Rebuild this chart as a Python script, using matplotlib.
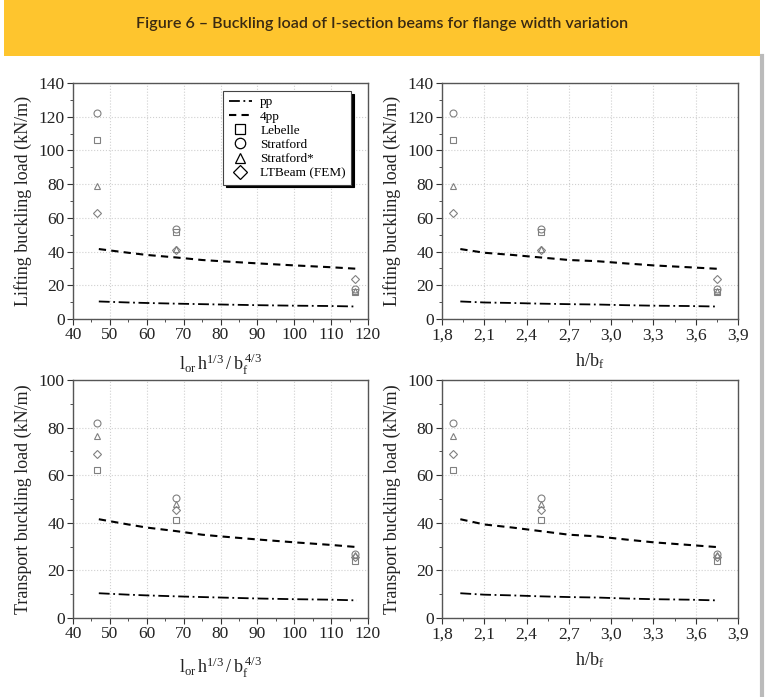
import matplotlib.pyplot as plt
from matplotlib.patches import Rectangle
from matplotlib.lines import Line2D
import numpy as np

# data
x_slend = [46.5, 68.0, 116.5]          # l_or h^1/3 / b_f^4/3
x_ratio = [1.88, 2.50, 3.75]           # h/b_f

lift_lebelle = [106.0, 51.5, 16.0]
lift_stratford = [122.5, 53.5, 18.0]
lift_stratford_s = [79.0, 41.5, 16.5]
lift_ltbeam = [63.0, 41.0, 24.0]

trans_lebelle = [62.0, 41.0, 24.0]
trans_stratford = [82.0, 50.5, 27.0]
trans_stratford_s = [76.5, 48.0, 26.5]
trans_ltbeam = [69.0, 45.5, 25.5]

line_x_slend = [47, 55, 60, 68, 75, 80, 90, 100, 110, 117]
line_x_ratio = [1.93, 2.1, 2.3, 2.5, 2.7, 2.9, 3.1, 3.3, 3.55, 3.75]
pp = [10.4, 9.8, 9.5, 9.1, 8.8, 8.6, 8.2, 7.9, 7.7, 7.4]
pp4 = [41.5, 39.3, 38.0, 36.5, 35.0, 34.3, 33.0, 31.8, 30.7, 29.8]

plt.rcParams['font.family'] = ['Liberation Serif', 'DejaVu Serif']
plt.rcParams['mathtext.fontset'] = 'stix'

fig = plt.figure(figsize=(7.67, 6.97), dpi=100)
W, H = 767.0, 697.0

# banner
fig.patches.append(Rectangle((4/W, 1-56/H), 756/W, 56/H, transform=fig.transFigure,
                             facecolor='#fec52e', edgecolor='none', zorder=0))
fig.text(382/W, 1-24/H, 'Figure 6 \u2013 Buckling load of I-section beams for flange width variation',
         ha='center', va='center', fontsize=11.6, color='#3a2a12', family='Lato', fontweight='semibold')
fig.lines.append(Line2D([762/W, 762/W], [0, 1-56/H], transform=fig.transFigure,
                        color='#bbbbbb', lw=3))

mk = dict(ls='none', mfc='none', mec='#808080', ms=5, mew=0.8)


def make_ax(l, t, r, b, x, lines_x, leb, stra, stra_s, ltb, xlim, xticks, xminor, xlabels,
            ylim, yticks, ylabel, xlabel, xlpad, legend=False):
    ax = fig.add_axes([l/W, 1-b/H, (r-l)/W, (b-t)/H])
    ax.plot(lines_x, pp, color='k', ls=(0, (6, 2, 1, 2)), lw=1.3, label='pp')
    ax.plot(lines_x, pp4, color='k', ls=(0, (3.5, 2.5)), lw=1.5, label='4pp')
    ax.plot(x, leb, marker='s', label='Lebelle', **mk)
    ax.plot(x, stra, marker='o', label='Stratford', **mk)
    ax.plot(x, stra_s, marker='^', label='Stratford*', **mk)
    ax.plot(x, ltb, marker='D', label='LTBeam (FEM)', **dict(mk, ms=4.5))
    ax.set_xlim(*xlim)
    ax.set_ylim(*ylim)
    ax.set_xticks(xticks)
    ax.set_xticklabels(xlabels)
    ax.set_xticks(xminor, minor=True)
    ax.set_yticks(yticks)
    ax.set_yticks(np.arange(ylim[0], ylim[1] + 1, 10), minor=True)
    ax.grid(True, which='major', color='#d0d0d0', ls=':', lw=0.8)
    ax.tick_params(which='both', direction='out', colors='#333333', labelsize=12.5,
                   labelcolor='#222222', pad=2)
    ax.tick_params(which='major', length=4)
    ax.tick_params(which='minor', length=2.5)
    for s in ax.spines.values():
        s.set_color('#555555')
        s.set_linewidth(1.0)
    ax.set_ylabel(ylabel, fontsize=13, color='#222222', labelpad=5)
    ax.set_xlabel(xlabel, fontsize=13, color='#222222', labelpad=xlpad)
    if legend:
        h, lab = ax.get_legend_handles_labels()
        big = []
        for hh in h:
            if hh.get_marker() not in (None, 'None', ''):
                big.append(Line2D([], [], ls='none', marker=hh.get_marker(), mfc='none',
                                  mec='k', ms=7.5, mew=0.9))
            else:
                big.append(hh)
        leg = ax.legend(big, lab, loc='upper right', bbox_to_anchor=(0.965, 0.995),
                        fontsize=9.5, frameon=True, fancybox=False, shadow={'color': 'k', 'alpha': 1},
                        handlelength=1.8, handletextpad=0.6, labelspacing=0.15,
                        borderpad=0.4, edgecolor='#444444')
        leg.get_frame().set_linewidth(0.8)
    return ax


slend_ticks = list(range(40, 121, 10))
slend_minor = list(range(45, 121, 10))
ratio_ticks = [1.8, 2.1, 2.4, 2.7, 3.0, 3.3, 3.6, 3.9]
ratio_minor = [1.95, 2.25, 2.55, 2.85, 3.15, 3.45, 3.75]
ratio_labels = ['%.1f' % v for v in ratio_ticks]
ratio_labels = [s.replace('.', ',') for s in ratio_labels]

xl_slend = r'$\mathregular{l_{or}\,h^{1/3}\,/\;b_f^{\,4/3}}$'
xl_ratio = r'$\mathregular{h/b_f}$'

make_ax(73, 83, 368, 319, x_slend, line_x_slend, lift_lebelle, lift_stratford,
        lift_stratford_s, lift_ltbeam, (40, 120), slend_ticks, slend_minor,
        [str(v) for v in slend_ticks], (0, 140), list(range(0, 141, 20)),
        'Lifting buckling load (kN/m)', xl_slend, 6, legend=True)
make_ax(442, 83, 738, 319, x_ratio, line_x_ratio, lift_lebelle, lift_stratford,
        lift_stratford_s, lift_ltbeam, (1.8, 3.9), ratio_ticks, ratio_minor,
        ratio_labels, (0, 140), list(range(0, 141, 20)),
        'Lifting buckling load (kN/m)', xl_ratio, 6)
make_ax(73, 380, 368, 618, x_slend, line_x_slend, trans_lebelle, trans_stratford,
        trans_stratford_s, trans_ltbeam, (40, 120), slend_ticks, slend_minor,
        [str(v) for v in slend_ticks], (0, 100), list(range(0, 101, 20)),
        'Transport buckling load (kN/m)', xl_slend, 9)
make_ax(442, 380, 738, 618, x_ratio, line_x_ratio, trans_lebelle, trans_stratford,
        trans_stratford_s, trans_ltbeam, (1.8, 3.9), ratio_ticks, ratio_minor,
        ratio_labels, (0, 100), list(range(0, 101, 20)),
        'Transport buckling load (kN/m)', xl_ratio, 6)

fig.savefig('out.png', dpi=100)
